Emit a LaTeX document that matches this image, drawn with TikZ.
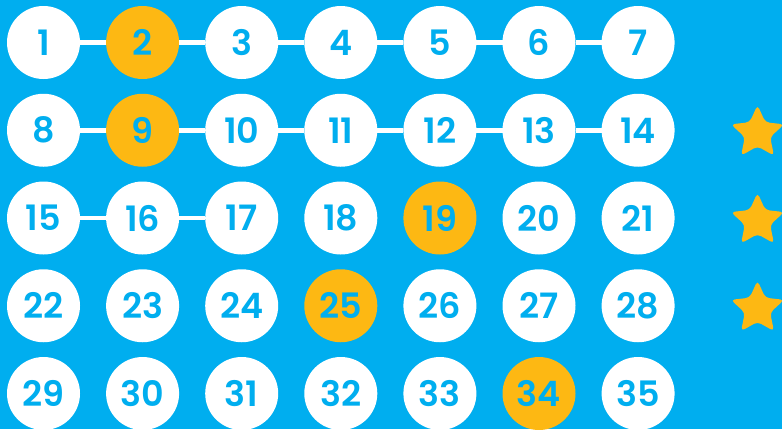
\documentclass[tikz,border=0pt]{standalone}
\usepackage{fontspec}
\setmainfont{Poppins}[BoldFont={* SemiBold}]
\usetikzlibrary{positioning,shapes.geometric}
\definecolor{skyblue}{HTML}{00AEEF}
\definecolor{sunorange}{HTML}{FDB813}

\begin{document}
\begin{tikzpicture}[x=1pt, y=-1pt, node distance=14.75pt and 26.1pt,
    every node/.style={circle, fill=white, text=skyblue, minimum size=73pt, inner sep=0pt, outer sep=0pt, font=\fontsize{35}{35}\selectfont\bfseries},
    picked/.style={fill=sunorange},
    link/.style={draw=white, line width=4.5pt}]
    \fill[skyblue] (0,0) rectangle (782,429);
    \useasboundingbox (0,0) rectangle (782,429);
    % row 1
    \node (n1) at (43.5,42.5) {1};
    \node (n2) [right=of n1, picked] {2};
    \node (n3) [right=of n2] {3};
    \node (n4) [right=of n3] {4};
    \node (n5) [right=of n4] {5};
    \node (n6) [right=of n5] {6};
    \node (n7) [right=of n6] {7};
    % row 2
    \node (n8) [below=of n1] {8};
    \node (n9) [right=of n8, picked] {9};
    \node (n10) [right=of n9] {10};
    \node (n11) [right=of n10] {11};
    \node (n12) [right=of n11] {12};
    \node (n13) [right=of n12] {13};
    \node (n14) [right=of n13] {14};
    % row 3
    \node (n15) [below=of n8] {15};
    \node (n16) [right=of n15] {16};
    \node (n17) [right=of n16] {17};
    \node (n18) [right=of n17] {18};
    \node (n19) [right=of n18, picked] {19};
    \node (n20) [right=of n19] {20};
    \node (n21) [right=of n20] {21};
    % row 4
    \node (n22) [below=of n15] {22};
    \node (n23) [right=of n22] {23};
    \node (n24) [right=of n23] {24};
    \node (n25) [right=of n24, picked] {25};
    \node (n26) [right=of n25] {26};
    \node (n27) [right=of n26] {27};
    \node (n28) [right=of n27] {28};
    % row 5
    \node (n29) [below=of n22] {29};
    \node (n30) [right=of n29] {30};
    \node (n31) [right=of n30] {31};
    \node (n32) [right=of n31] {32};
    \node (n33) [right=of n32] {33};
    \node (n34) [right=of n33, picked] {34};
    \node (n35) [right=of n34] {35};
    % stars
    \node (star2) [star, star points=5, star point ratio=2.1, minimum size=56pt, fill=sunorange, rounded corners=4pt] at (757.5,133) {};
    \node (star3) [star, star points=5, star point ratio=2.1, minimum size=56pt, fill=sunorange, rounded corners=4pt] at (757.5,220.75) {};
    \node (star4) [star, star points=5, star point ratio=2.1, minimum size=56pt, fill=sunorange, rounded corners=4pt] at (757.5,308.5) {};
    % links
    \draw[link] (n1) -- (n2);
    \draw[link] (n2) -- (n3);
    \draw[link] (n3) -- (n4);
    \draw[link] (n4) -- (n5);
    \draw[link] (n5) -- (n6);
    \draw[link] (n6) -- (n7);
    \draw[link] (n8) -- (n9);
    \draw[link] (n9) -- (n10);
    \draw[link] (n10) -- (n11);
    \draw[link] (n11) -- (n12);
    \draw[link] (n12) -- (n13);
    \draw[link] (n13) -- (n14);
    \draw[link] (n15) -- (n16);
    \draw[link] (n16) -- (n17);
\end{tikzpicture}
\end{document}
